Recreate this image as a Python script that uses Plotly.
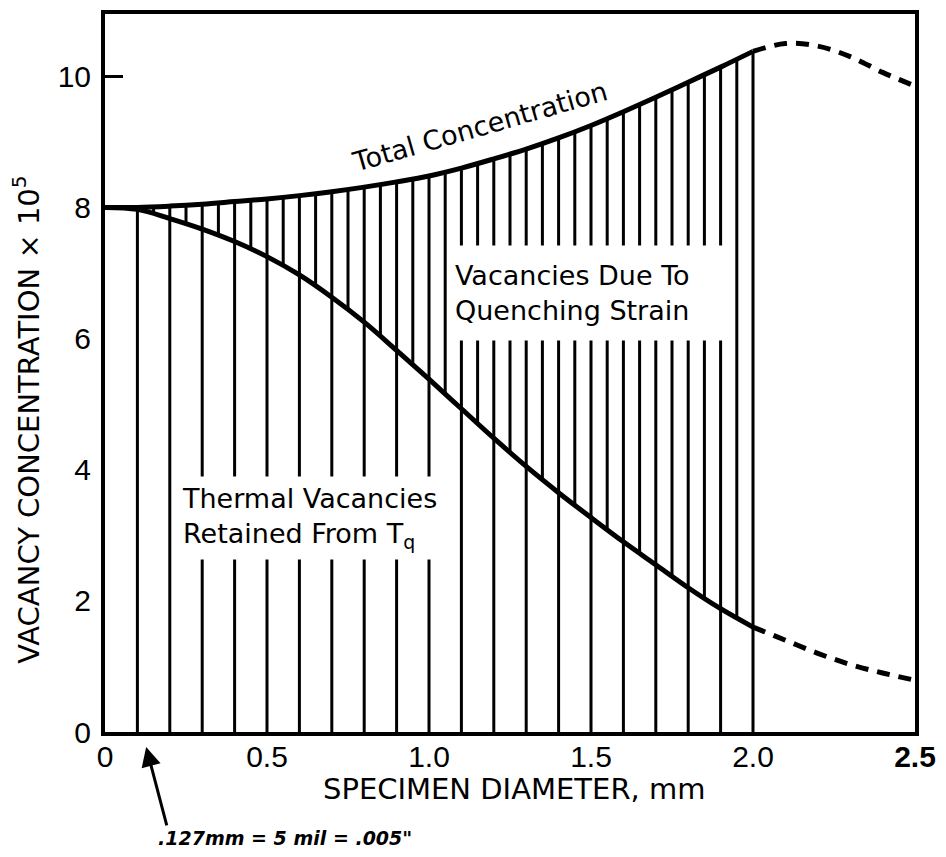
import numpy as np
import plotly.graph_objects as go

# ---- data ----
diameter = [0.0, 0.1, 0.2, 0.3, 0.4, 0.5, 0.6, 0.7, 0.8, 0.9, 1.0,
            1.1, 1.2, 1.3, 1.4, 1.5, 1.6, 1.7, 1.8, 1.9, 2.0]
total_conc = [8.0, 8.0, 8.02, 8.05, 8.09, 8.13, 8.18, 8.24, 8.31, 8.39, 8.48,
              8.6, 8.74, 8.89, 9.06, 9.25, 9.46, 9.68, 9.91, 10.14, 10.38]
thermal_conc = [8.0, 7.97, 7.83, 7.67, 7.48, 7.25, 6.97, 6.63, 6.25, 5.82, 5.38,
                4.93, 4.48, 4.05, 3.65, 3.27, 2.9, 2.55, 2.2, 1.88, 1.6]

ext_diameter = [2.0, 2.1, 2.2, 2.3, 2.4, 2.5]
total_ext = [10.38, 10.5, 10.46, 10.3, 10.06, 9.85]
thermal_ext = [1.6, 1.4, 1.2, 1.03, 0.9, 0.79]

x_ticks = [0, 0.5, 1.0, 1.5, 2.0, 2.5]
x_ticktext = ["0", "0.5", "1.0", "1.5", "2.0", "<b>2.5</b>"]
y_ticks = [0, 2, 4, 6, 8, 10]

# ---- hatching built from the curves ----
d = np.array(diameter)
tot = np.array(total_conc)
th = np.array(thermal_conc)
hx, hy = [], []
for i in range(1, len(d)):
    hx += [d[i], d[i], None]
    hy += [0, tot[i], None]
mids = (d[:-1] + d[1:]) / 2
for m in mids:
    hx += [m, m, None]
    hy += [float(np.interp(m, d, th)), float(np.interp(m, d, tot)), None]

fig = go.Figure()
fig.add_trace(go.Scatter(x=hx, y=hy, mode="lines",
                         line=dict(color="black", width=3), hoverinfo="skip"))
fig.add_trace(go.Scatter(x=diameter, y=total_conc, mode="lines",
                         line=dict(color="black", width=5, shape="spline")))
fig.add_trace(go.Scatter(x=diameter, y=thermal_conc, mode="lines",
                         line=dict(color="black", width=5, shape="spline")))
fig.add_trace(go.Scatter(x=ext_diameter, y=total_ext, mode="lines", yaxis="y2",
                         line=dict(color="black", width=5, shape="spline",
                                   dash="13px,9px")))
fig.add_trace(go.Scatter(x=ext_diameter, y=thermal_ext, mode="lines", yaxis="y2",
                         line=dict(color="black", width=5, shape="spline",
                                   dash="13px,9px")))

YR = [0, 10.95]
tickfont = dict(family="Liberation Sans", size=30, color="black")
fig.update_layout(
    width=946, height=857, autosize=False,
    margin=dict(l=105, r=31, t=10, b=125),
    paper_bgcolor="white", plot_bgcolor="white",
    showlegend=False,
    xaxis=dict(range=[0, 2.5], tickvals=x_ticks, ticktext=x_ticktext,
               showgrid=False, zeroline=False, showline=True, mirror=True,
               linewidth=4, linecolor="black", ticks="", tickfont=tickfont,
               ticklabelstandoff=-5),
    yaxis=dict(range=YR, tickvals=y_ticks, showgrid=False, zeroline=False,
               showline=True, mirror=True, linewidth=4, linecolor="black",
               ticks="", tickfont=tickfont, ticklabelstandoff=4),
    yaxis2=dict(range=YR, overlaying="y", side="left", tickvals=[10],
                ticks="inside", ticklen=18, tickwidth=3, tickcolor="black",
                showticklabels=False, showgrid=False, zeroline=False,
                showline=False),
)

lab = dict(family="DejaVu Sans", size=27, color="black")
fig.add_annotation(x=1.157, y=9.23, xref="x", yref="y", text="Total Concentration",
                   xanchor="center", yanchor="middle",
                   textangle=-16, showarrow=False,
                   font=dict(family="DejaVu Sans", size=27, color="black"))
fig.add_annotation(x=1.497, y=6.70, xref="x", yref="y",
                   text="Vacancies Due To<br>Quenching Strain",
                   xanchor="center", yanchor="middle",
                   showarrow=False, font=lab, align="left",
                   width=270, height=90, borderpad=2, bgcolor="white")
fig.add_annotation(x=0.656, y=3.265, xref="x", yref="y",
                   text="Thermal Vacancies<br>Retained From T<sub>q</sub>",
                   xanchor="center", yanchor="middle",
                   showarrow=False, font=lab, align="left",
                   width=272, height=78, borderpad=2, bgcolor="white")

fig.add_annotation(x=0.505, y=-0.080, xref="paper", yref="paper",
                   xanchor="center", yanchor="middle",
                   text="SPECIMEN DIAMETER, mm", showarrow=False,
                   font=dict(family="DejaVu Sans", size=29, color="black"))
fig.add_annotation(x=-0.0975, y=0.435, xref="paper", yref="paper",
                   xanchor="center", yanchor="middle",
                   text="VACANCY CONCENTRATION × 10<sup>5</sup>", textangle=-90,
                   showarrow=False,
                   font=dict(family="DejaVu Sans", size=29, color="black"))

fig.add_annotation(x=0.127, y=-0.0208, xref="x", yref="paper", text="",
                   showarrow=True, ax=21, ay=80, arrowhead=2, arrowsize=1.3,
                   arrowwidth=3, arrowcolor="black")
fig.add_annotation(x=0.222, y=-0.147, xref="paper", yref="paper",
                   xanchor="center", yanchor="middle",
                   text="<b><i>.127mm = 5 mil = .005\"</i></b>", showarrow=False,
                   font=dict(family="DejaVu Sans", size=19, color="black"))

fig.write_html("out.html")
